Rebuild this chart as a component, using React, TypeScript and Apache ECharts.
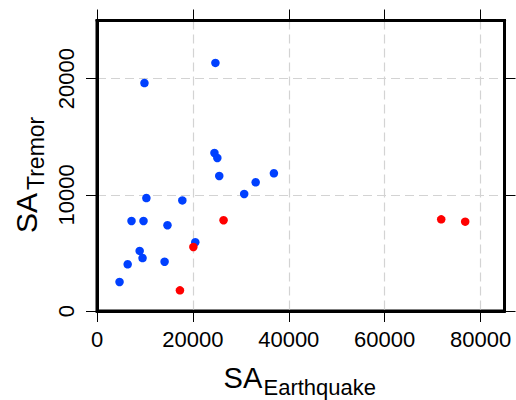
import React, { useEffect, useRef } from "react";
import * as echarts from "echarts";

const blueX = [24700, 9900, 24500, 25100, 25500, 36900, 33100, 30700, 10300, 17800, 7200, 9700, 14700, 20500, 8900, 9500, 6400, 14100, 4700];
const blueY = [21350, 19620, 13600, 13170, 11620, 11850, 11080, 10070, 9720, 9520, 7750, 7750, 7380, 5920, 5170, 4560, 4020, 4240, 2500];
const redX = [26400, 20100, 17300, 71800, 76800];
const redY = [7810, 5510, 1780, 7890, 7690];
const xTicks = [0, 20000, 40000, 60000, 80000];
const yTicks = [0, 10000, 20000];

const FONT = "Liberation Sans, Arial, Helvetica, sans-serif";

export default function App() {
  const ref = useRef<HTMLDivElement>(null);
  useEffect(() => {
    if (!ref.current) return;
    const chart = echarts.init(ref.current, null, { renderer: "svg" });
    const tickStyle = { color: "#000", width: 1 };
    const split = { show: true, showMinLine: false, lineStyle: { color: "#d3d3d3", type: [9, 5] as any, width: 1.2 } };
    const xBase = { type: "value" as const, min: 0, max: 85000, interval: 20000 };
    const yBase = { type: "value" as const, min: 0, max: 25000, interval: 10000 };
    const line = { show: true, onZero: false, lineStyle: { color: "#000", width: 3 } };
    const xTick = { show: true, inside: false, length: 11, lineStyle: tickStyle, customValues: xTicks } as any;
    const yTick = { show: true, inside: false, length: 11, lineStyle: tickStyle, customValues: yTicks } as any;
    const txt = (x: number, y: number, text: string, size: number, rot = 0) => ({
      type: "text",
      x,
      y,
      rotation: rot,
      silent: true,
      style: { text, fontSize: size, fontFamily: FONT, fill: "#000", align: "left", verticalAlign: "middle" },
    });
    chart.setOption({
      animation: false,
      grid: { left: 97, right: 11.5, top: 20.5, bottom: 89, show: true, borderColor: "#000", borderWidth: 3, backgroundColor: "transparent" },
      xAxis: [
        {
          ...xBase,
          position: "bottom",
          axisLine: line,
          axisTick: xTick,
          splitLine: split,
          axisLabel: { show: true, fontSize: 22, fontFamily: FONT, color: "#000", margin: 17, customValues: xTicks, formatter: (v: number) => String(v) } as any,
        },
        {
          ...xBase,
          position: "top",
          axisLine: line,
          axisTick: xTick,
          splitLine: { show: false },
          axisLabel: { show: false },
        },
      ],
      yAxis: [
        {
          ...yBase,
          position: "left",
          axisLine: line,
          axisTick: yTick,
          splitLine: split,
          axisLabel: { show: true, rotate: 90, fontSize: 22, fontFamily: FONT, color: "#000", margin: 20, customValues: yTicks, formatter: (v: number) => String(v) } as any,
        },
        {
          ...yBase,
          position: "right",
          axisLine: line,
          axisTick: yTick,
          splitLine: { show: false },
          axisLabel: { show: false },
        },
      ],
      graphic: [
        txt(223.6, 377.7, "SA", 29),
        txt(263.5, 387.4, "Earthquake", 22),
        txt(26.3, 233, "SA", 30, Math.PI / 2),
        txt(36.3, 190, "Tremor", 23, Math.PI / 2),
      ],
      series: [
        {
          type: "scatter",
          xAxisIndex: 0,
          yAxisIndex: 0,
          symbol: "circle",
          symbolSize: 8.5,
          itemStyle: { color: "#0040ff", opacity: 1 },
          data: blueX.map((x, i) => [x, blueY[i]]),
        },
        {
          type: "scatter",
          xAxisIndex: 0,
          yAxisIndex: 0,
          symbol: "circle",
          symbolSize: 8.5,
          itemStyle: { color: "#ff0000", opacity: 1 },
          data: redX.map((x, i) => [x, redY[i]]),
        },
      ],
    });
    return () => chart.dispose();
  }, []);
  return <div ref={ref} style={{ width: 516, height: 400, position: "absolute", left: 0, top: 0 }} />;
}
